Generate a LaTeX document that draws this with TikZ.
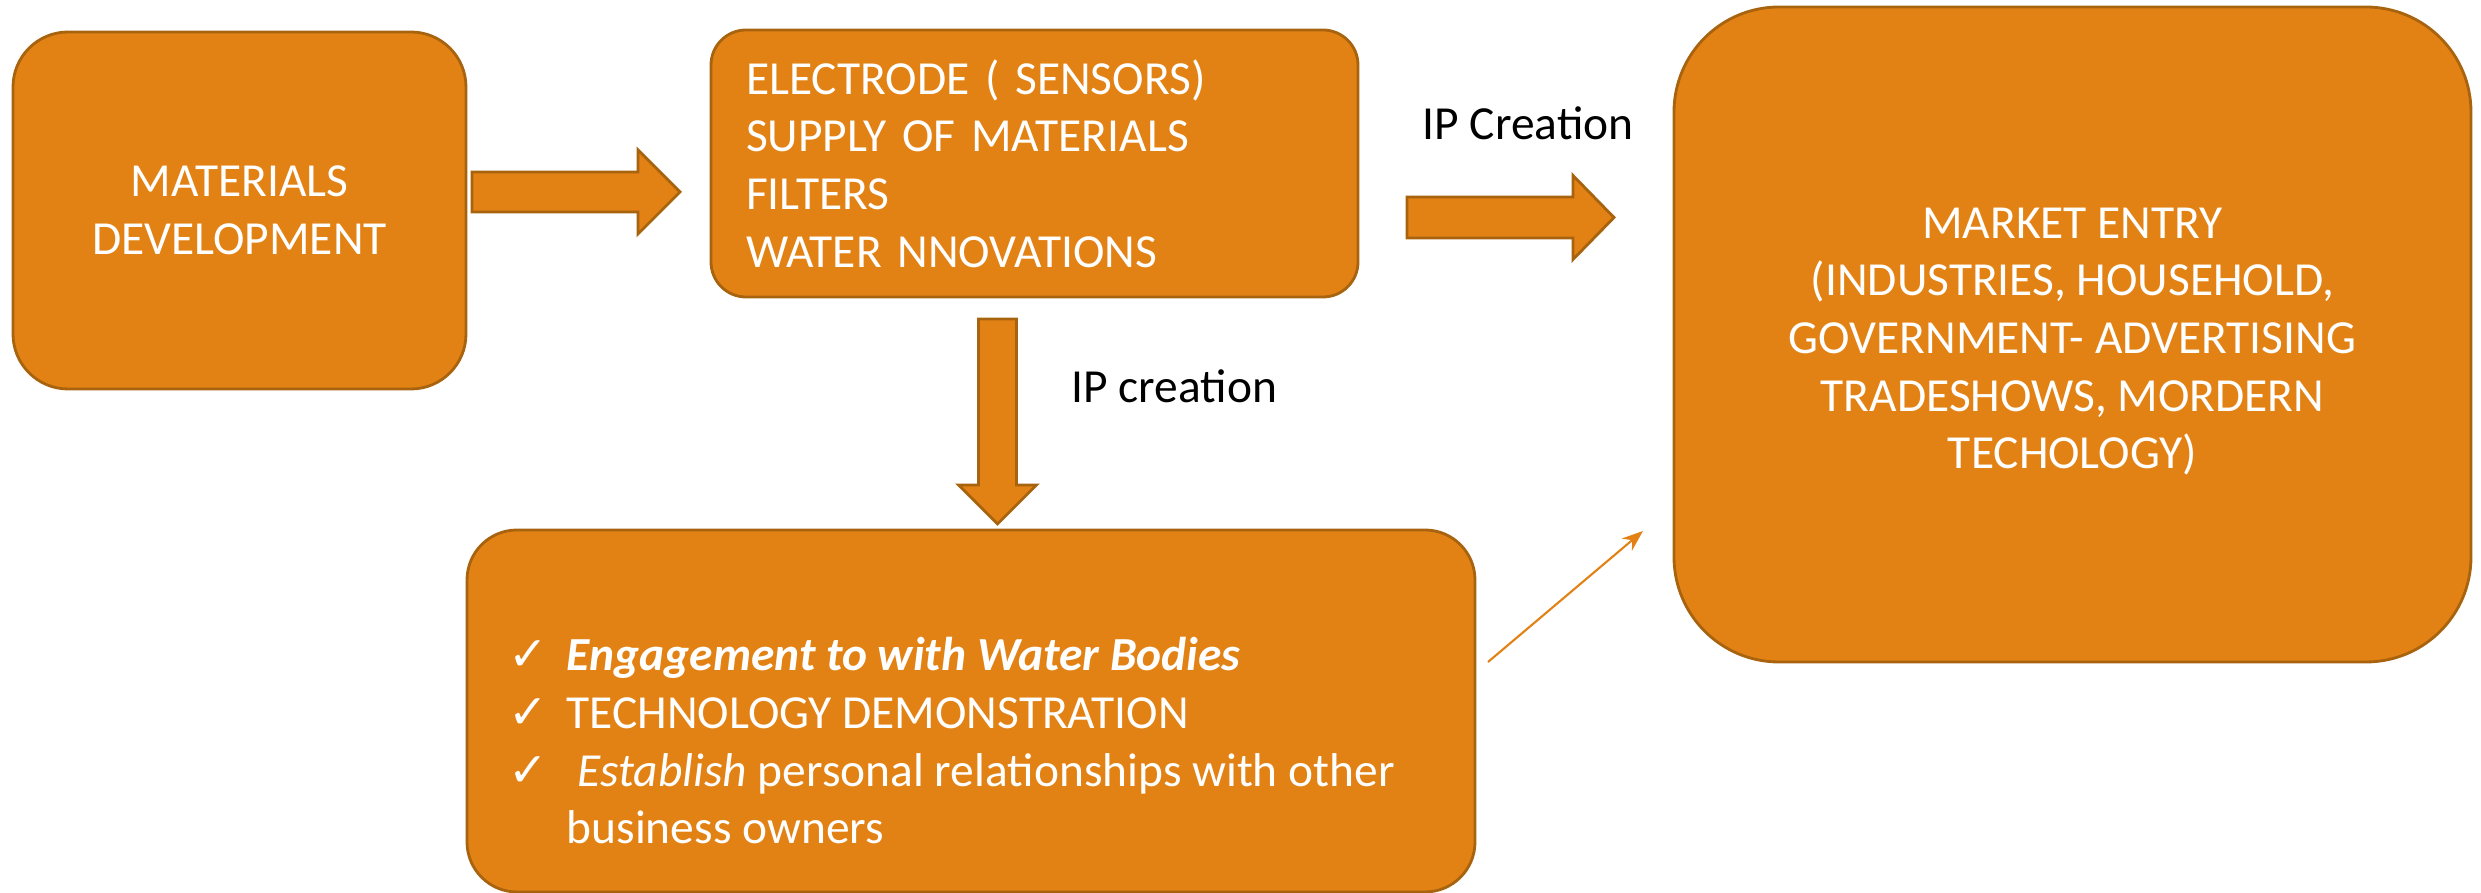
\documentclass[tikz,border=0pt]{standalone}
\usepackage{fontspec}
\setmainfont{Carlito}
\newfontfamily\symfont{DejaVu Sans}
\usetikzlibrary{arrows.meta}

\definecolor{boxfill}{HTML}{E38214}
\definecolor{boxline}{HTML}{A8630F}

\tikzset{
  box/.style={draw=boxline, fill=boxfill, line width=0.8pt, text=white, inner sep=0pt,
    font=\fontsize{13.5}{16.4}\selectfont},
  blockarrow/.style={draw=boxline, fill=boxfill, line width=0.8pt},
  lbl/.style={font=\fontsize{13.5}{16.4}\selectfont, inner sep=0pt}
}
\newcommand{\tick}{\makebox[0.58cm][l]{\symfont ✓}}

\begin{document}
\begin{tikzpicture}
\useasboundingbox (0,0) rectangle (24.81,-8.93);

% boxes
\node[box, rounded corners=0.55cm, minimum width=4.53cm, minimum height=3.57cm, align=center] (matdev) at (2.395,-2.105) {MATERIALS\\DEVELOPMENT};
\node[box, rounded corners=0.35cm, minimum width=6.47cm, minimum height=2.67cm, text width=5.77cm, align=left] (products) at (10.345,-1.635) {ELECTRODE ( SENSORS)\\SUPPLY OF MATERIALS\\FILTERS\\WATER NNOVATIONS};
\node[box, rounded corners=1.05cm, minimum width=7.97cm, minimum height=6.55cm] (market) at (20.725,-3.345) {};
\node[lbl, text=white, align=center, yshift=-0.07cm] (markettext) at (market.center) {MARKET ENTRY\\(INDUSTRIES, HOUSEHOLD,\\GOVERNMENT- ADVERTISING\\TRADESHOWS, MORDERN\\TECHOLOGY)};
\node[box, rounded corners=0.5cm, minimum width=10.08cm, minimum height=3.62cm] (engage) at (9.71,-7.11) {};
\node[lbl, text=white, anchor=north west, align=left] (engagelist) at (5.08,-6.37) {\tick\textbf{\textit{Engagement to with Water Bodies}}\\
  \tick TECHNOLOGY DEMONSTRATION\\
  \tick\ \textit{Establish} personal relationships with other\\
  \hspace*{0.58cm}business owners};

% block arrows
\coordinate (a1) at (4.72,-1.92);
\draw[blockarrow] (a1) ++(0,0.2) -- ++(1.66,0) -- ++(0,0.22) -- ++(0.42,-0.42) -- ++(-0.42,-0.42) -- ++(0,0.22) -- ++(-1.66,0) -- cycle;
\coordinate (a2) at (14.07,-2.175);
\draw[blockarrow] (a2) ++(0,0.205) -- ++(1.66,0) -- ++(0,0.215) -- ++(0.41,-0.42) -- ++(-0.41,-0.42) -- ++(0,0.215) -- ++(-1.66,0) -- cycle;
\coordinate (a3) at (9.975,-3.19);
\draw[blockarrow] (a3) ++(-0.19,0) -- ++(0,-1.66) -- ++(-0.20,0) -- ++(0.39,-0.39) -- ++(0.39,0.39) -- ++(-0.20,0) -- ++(0,1.66) -- cycle;

\node[lbl, anchor=base west] (ipmarket) at (14.22,-1.40) {IP Creation};
\node[lbl, anchor=base west] (ipengage) at (10.71,-4.03) {IP creation};

% thin arrow to market
\coordinate (tailpt) at (14.88,-6.62);
\coordinate (tippt) at (16.43,-5.31);
\draw[boxfill, line width=0.6pt, -{Stealth[length=6pt,width=4.5pt]}] (tailpt) -- (tippt);
\end{tikzpicture}
\end{document}
